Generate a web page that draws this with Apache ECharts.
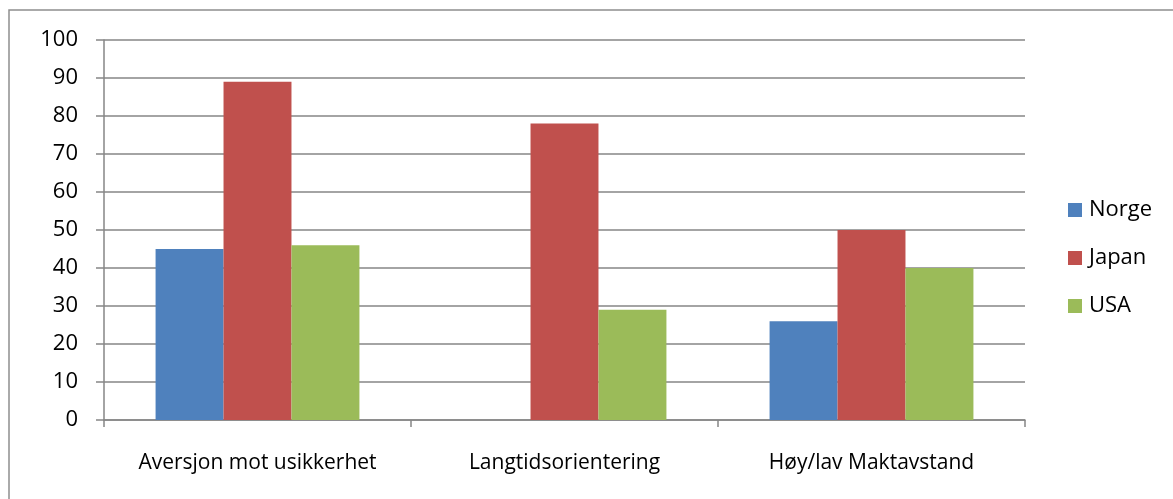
<!DOCTYPE html>
<html>
<head>
<meta charset="utf-8">
<script src="https://cdn.jsdelivr.net/npm/echarts@6/dist/echarts.min.js"></script>
<style>
  html, body { margin: 0; padding: 0; background: #fff; }
  #chart { width: 1173px; height: 499px; }
</style>
</head>
<body>
<div id="chart"></div>
<script>
// categories and values
var categories = ['Aversjon mot usikkerhet', 'Langtidsorientering', 'Høy/lav Maktavstand'];
var norge = [45, 0, 26];
var japan = [89, 78, 50];
var usa = [46, 29, 40];
var yTicks = { min: 0, max: 100, interval: 10 };

var font = '"Open Sans", "Liberation Sans", sans-serif';
var gray = '#868686';

var chart = echarts.init(document.getElementById('chart'));

var option = {
    animation: false,
    textStyle: { fontFamily: font },
    graphic: [
        {
            type: 'rect',
            shape: { x: 9, y: 10, width: 1300, height: 600 },
            style: { fill: 'none', stroke: '#8e8e8e', lineWidth: 1.5 }
        }
    ],
    grid: {
        left: 104,
        right: 148,
        top: 40,
        bottom: 79
    },
    legend: {
        orient: 'vertical',
        left: 1063,
        top: 194,
        itemWidth: 14,
        itemHeight: 14,
        itemGap: 26,
        icon: 'rect',
        textStyle: { fontSize: 22, color: '#000', fontFamily: font, padding: [0, 0, 0, 2] },
        data: ['Norge', 'Japan', 'USA']
    },
    xAxis: {
        type: 'category',
        data: categories,
        axisLine: { lineStyle: { color: gray, width: 1.5 } },
        axisTick: { show: true, interval: 0, length: 7, alignWithLabel: false, lineStyle: { color: gray, width: 1.5 } },
        axisLabel: { interval: 0, fontSize: 21, color: '#000', margin: 33, fontFamily: font }
    },
    yAxis: {
        type: 'value',
        min: yTicks.min,
        max: yTicks.max,
        interval: yTicks.interval,
        axisLine: { show: true, lineStyle: { color: gray, width: 1.5 } },
        axisTick: { show: true, inside: false, length: 8, lineStyle: { color: gray, width: 1.5 } },
        axisLabel: { fontSize: 22, color: '#000', margin: 26, fontFamily: font },
        splitLine: { show: true, lineStyle: { color: gray, width: 1.5 } }
    },
    series: [
        {
            name: 'Norge',
            type: 'bar',
            data: norge,
            barGap: '0%',
            barCategoryGap: '33.6%',
            itemStyle: { color: '#4F81BD' }
        },
        {
            name: 'Japan',
            type: 'bar',
            data: japan,
            itemStyle: { color: '#C0504D' }
        },
        {
            name: 'USA',
            type: 'bar',
            data: usa,
            itemStyle: { color: '#9BBB59' }
        }
    ]
};

chart.setOption(option);
</script>
</body>
</html>
